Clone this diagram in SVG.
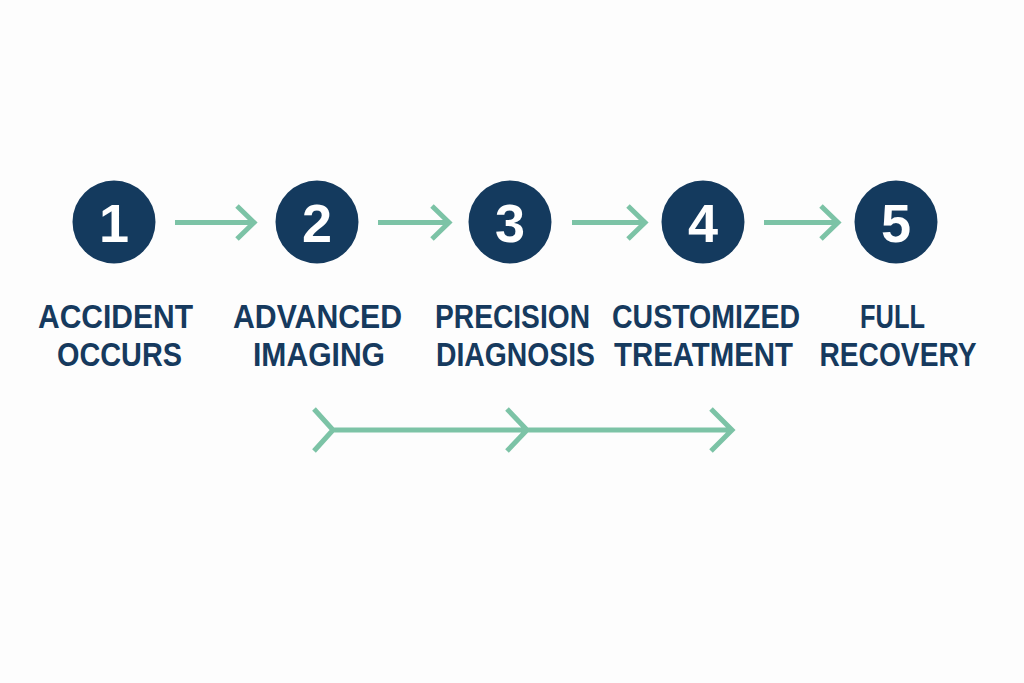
<svg xmlns="http://www.w3.org/2000/svg" width="1024" height="683" viewBox="0 0 1024 683">
<style>
.c{fill:#143a5e}
.n{font-family:"Liberation Sans",Arial,sans-serif;font-weight:bold;font-size:54px;fill:#ffffff;text-anchor:middle}
.l{font-family:"Liberation Sans",Arial,sans-serif;font-weight:bold;font-size:33px;fill:#163a5e;text-anchor:middle}
.a{fill:none;stroke:#7cc3a6;stroke-width:5;stroke-linecap:butt;stroke-linejoin:miter}
</style>
<rect width="1024" height="683" fill="#fdfdfd"/>
<g id="node1"><circle class="c" cx="114" cy="222" r="41.5"/><text class="n" x="114" y="242">1</text><text class="l" x="115.5" y="328" textLength="155" lengthAdjust="spacingAndGlyphs">ACCIDENT</text><text class="l" x="119.5" y="366" textLength="125" lengthAdjust="spacingAndGlyphs">OCCURS</text></g>
<g id="node2"><circle class="c" cx="317" cy="222" r="41.5"/><text class="n" x="317" y="242">2</text><text class="l" x="317.5" y="328" textLength="169" lengthAdjust="spacingAndGlyphs">ADVANCED</text><text class="l" x="319" y="366" textLength="132" lengthAdjust="spacingAndGlyphs">IMAGING</text></g>
<g id="node3"><circle class="c" cx="510" cy="222" r="41.5"/><text class="n" x="510" y="242">3</text><text class="l" x="512.5" y="328" textLength="155" lengthAdjust="spacingAndGlyphs">PRECISION</text><text class="l" x="515.5" y="366" textLength="159" lengthAdjust="spacingAndGlyphs">DIAGNOSIS</text></g>
<g id="node4"><circle class="c" cx="703" cy="222" r="41.5"/><text class="n" x="703" y="242">4</text><text class="l" x="706" y="328" textLength="188" lengthAdjust="spacingAndGlyphs">CUSTOMIZED</text><text class="l" x="703.5" y="366" textLength="179" lengthAdjust="spacingAndGlyphs">TREATMENT</text></g>
<g id="node5"><circle class="c" cx="896" cy="222" r="41.5"/><text class="n" x="896" y="242">5</text><text class="l" x="892.5" y="328" textLength="65" lengthAdjust="spacingAndGlyphs">FULL</text><text class="l" x="898" y="366" textLength="157" lengthAdjust="spacingAndGlyphs">RECOVERY</text></g>
<g id="connectors">
<path class="a" d="M175 222.5H253M237 206L254 222.5L237 239"/>
<path class="a" d="M378 222.5H448M432 206L449 222.5L432 239"/>
<path class="a" d="M572 222.5H644M628 206L645 222.5L628 239"/>
<path class="a" d="M764 222.5H837M821 206L838 222.5L821 239"/>
<path class="a" d="M333 430H731M314 409L333 430L314 451M507 409L527 430L507 451M711 409L732 430L711 451"/>
</g>
</svg>
